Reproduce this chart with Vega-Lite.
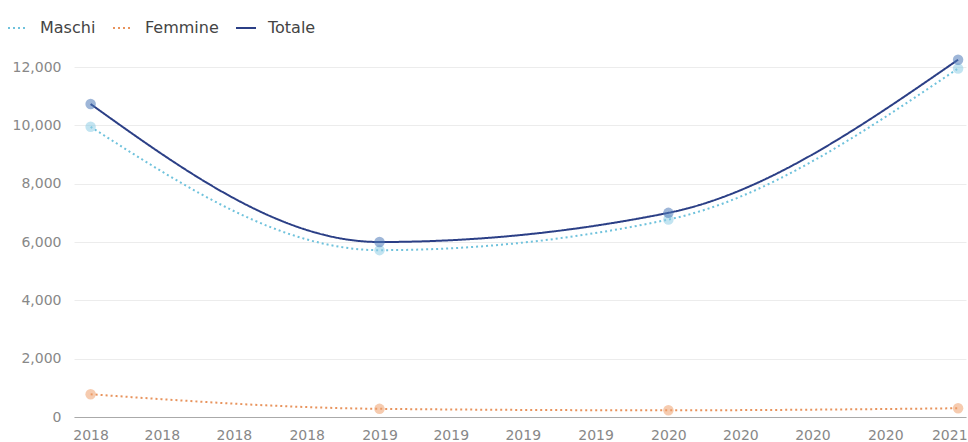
{
  "$schema": "https://vega.github.io/schema/vega-lite/v6.json",
  "width": 968,
  "height": 442,
  "autosize": {"type": "fit", "contains": "padding"},
  "padding": {"left": 12, "top": 52, "right": 1, "bottom": 0},
  "background": "white",
  "config": {
    "view": {"stroke": null},
    "font": "DejaVu Sans",
    "axis": {"labelColor": "#888", "labelFontSize": 14, "labelFont": "DejaVu Sans"}
  },
  "data": {
    "values": [
      {"date": "2018-01-01", "serie": "Maschi", "valore": 9950},
      {"date": "2019-01-01", "serie": "Maschi", "valore": 5720},
      {"date": "2020-01-01", "serie": "Maschi", "valore": 6770},
      {"date": "2021-01-01", "serie": "Maschi", "valore": 11950},
      {"date": "2018-01-01", "serie": "Femmine", "valore": 780},
      {"date": "2019-01-01", "serie": "Femmine", "valore": 280},
      {"date": "2020-01-01", "serie": "Femmine", "valore": 230},
      {"date": "2021-01-01", "serie": "Femmine", "valore": 300},
      {"date": "2018-01-01", "serie": "Totale", "valore": 10730},
      {"date": "2019-01-01", "serie": "Totale", "valore": 6000},
      {"date": "2020-01-01", "serie": "Totale", "valore": 7000},
      {"date": "2021-01-01", "serie": "Totale", "valore": 12250}
    ]
  },
  "encoding": {
    "x": {
      "field": "date",
      "type": "temporal",
      "title": null,
      "scale": {
        "type": "utc",
        "domain": [
          {"year": 2017, "month": 12, "date": 11, "utc": true},
          {"year": 2021, "month": 1, "date": 11, "utc": true}
        ]
      },
      "axis": {
        "format": "%Y",
        "tickCount": {"interval": "month", "step": 3},
        "grid": false,
        "ticks": false,
        "domainColor": "#aaa",
        "labelPadding": 11,
        "labelFlush": 12,
        "labelFlushOffset": 9
      }
    },
    "y": {
      "field": "valore",
      "type": "quantitative",
      "title": null,
      "scale": {"domain": [0, 12000], "nice": false},
      "axis": {
        "format": ",d",
        "values": [0, 2000, 4000, 6000, 8000, 10000, 12000],
        "ticks": false,
        "domain": false,
        "gridColor": "#ececec",
        "labelPadding": 13
      }
    }
  },
  "layer": [
    {
      "mark": {"type": "line", "interpolate": "monotone"},
      "encoding": {
        "color": {
          "field": "serie",
          "type": "nominal",
          "scale": {"domain": ["Maschi", "Femmine", "Totale"], "range": ["#6fc2dc", "#e8935c", "#2b3f86"]},
          "legend": {
            "title": null,
            "orient": "none",
            "direction": "horizontal",
            "legendX": -67,
            "legendY": -50,
            "labelFontSize": 16,
            "labelColor": "#444",
            "labelFont": "DejaVu Sans",
            "labelOffset": 11,
            "symbolType": "stroke",
            "symbolSize": 400,
            "symbolStrokeWidth": 2,
            "columnPadding": 13
          }
        },
        "strokeDash": {
          "field": "serie",
          "type": "nominal",
          "scale": {"domain": ["Maschi", "Femmine", "Totale"], "range": [[2, 3], [2, 3], [1, 0]]},
          "legend": null
        },
        "strokeWidth": {
          "field": "serie",
          "type": "nominal",
          "scale": {"domain": ["Maschi", "Femmine", "Totale"], "range": [2, 2, 2.5]},
          "legend": null
        }
      }
    },
    {
      "mark": {"type": "point", "filled": true, "size": 110, "opacity": 0.55},
      "encoding": {
        "color": {
          "field": "serie",
          "type": "nominal",
          "scale": {"domain": ["Maschi", "Femmine", "Totale"], "range": ["#6fc2dc", "#e8935c", "#2b3f86"]},
          "legend": null
        },
        "fill": {
          "field": "serie",
          "type": "nominal",
          "scale": {"domain": ["Maschi", "Femmine", "Totale"], "range": ["#8fcde6", "#eea06e", "#4f7ab8"]},
          "legend": null
        }
      }
    }
  ]
}
